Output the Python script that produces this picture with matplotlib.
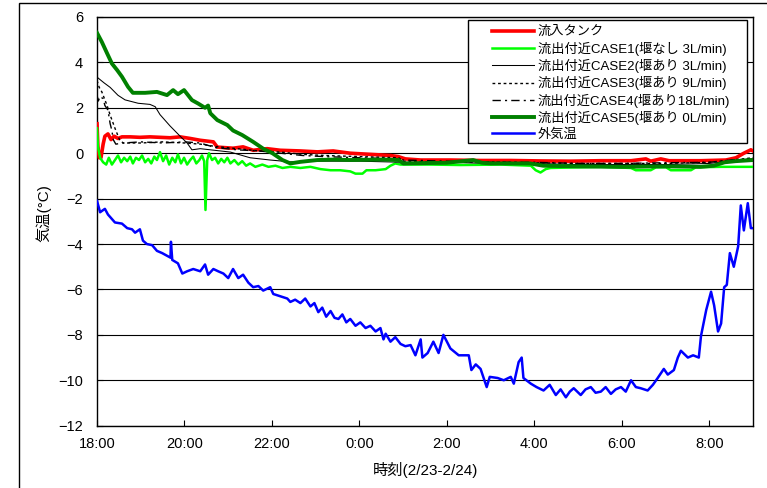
import matplotlib.pyplot as plt
from matplotlib.patches import Rectangle

plt.rcParams['font.family'] = ['Liberation Sans', 'Noto Sans CJK JP', 'DejaVu Sans']

# eje x: horas desde las 18:00 del 2/23
tick_pos = [0, 2, 4, 6, 8, 10, 12, 14]
tick_labels = ['18:00', '20:00', '22:00', '0:00', '2:00', '4:00', '6:00', '8:00']

series_labels = [
    '流入タンク',
    '流出付近CASE1(堰なし 3L/min)',
    '流出付近CASE2(堰あり 3L/min)',
    '流出付近CASE3(堰あり 9L/min)',
    '流出付近CASE4(堰あり18L/min)',
    '流出付近CASE5(堰あり 0L/min)',
    '外気温',
]

# 流入タンク
t_tank = [0.00, 0.02, 0.05, 0.09, 0.14, 0.18, 0.25, 0.32, 0.39, 0.48, 0.57, 0.76, 0.98, 1.21, 1.44,
          1.67, 1.90, 2.13, 2.36, 2.66, 2.75, 3.11, 3.34, 3.57, 3.89, 4.19, 4.65, 5.04, 5.40, 5.79,
          6.25, 6.71, 6.89, 7.05, 7.40, 8.08, 8.77, 9.46, 10.14, 10.83, 11.52, 12.21, 12.55, 12.66,
          12.89, 13.08, 13.81, 14.38, 14.61, 14.79, 14.95, 15.00]
v_tank = [1.3, 0.3, -0.2, -0.2, 0.4, 0.75, 0.85, 0.6, 0.75, 0.65, 0.72, 0.72, 0.7, 0.72, 0.7,
          0.68, 0.72, 0.65, 0.57, 0.5, 0.27, 0.22, 0.28, 0.13, 0.2, 0.13, 0.1, 0.06, 0.1, 0.0,
          -0.05, -0.1, -0.15, -0.25, -0.3, -0.3, -0.32, -0.32, -0.34, -0.35, -0.33, -0.33, -0.25, -0.35,
          -0.25, -0.33, -0.33, -0.3, -0.2, 0.0, 0.15, 0.1]

# CASE1
t_case1 = [0.00, 0.02, 0.07, 0.14, 0.21, 0.27, 0.34, 0.41, 0.48, 0.55, 0.62, 0.69, 0.76, 0.82, 0.89,
           0.96, 1.03, 1.10, 1.17, 1.24, 1.31, 1.37, 1.44, 1.51, 1.58, 1.65, 1.72, 1.79, 1.85, 1.92,
           1.99, 2.06, 2.13, 2.20, 2.27, 2.34, 2.40, 2.45, 2.48, 2.52, 2.56, 2.63, 2.70, 2.77, 2.84,
           2.91, 2.98, 3.05, 3.14, 3.23, 3.32, 3.41, 3.50, 3.62, 3.78, 3.92, 4.08, 4.24, 4.42, 4.65,
           4.88, 5.11, 5.34, 5.56, 5.79, 5.91, 6.07, 6.16, 6.37, 6.60, 6.71, 6.82, 6.94, 7.63, 8.31,
           9.23, 9.92, 10.03, 10.14, 10.26, 10.37, 11.06, 11.52, 12.21, 12.32, 12.66, 12.78, 13.01,
           13.12, 13.58, 13.69, 14.27, 15.00]
v_case1 = [1.1, 0.3, -0.2, -0.4, -0.5, -0.2, -0.5, -0.3, -0.1, -0.4, -0.2, -0.35, -0.15, -0.45, -0.2,
           -0.3, -0.1, -0.4, -0.25, -0.45, -0.15, -0.3, 0.05, -0.35, -0.1, -0.5, -0.2, -0.4, -0.05, -0.45,
           -0.2, -0.5, -0.3, -0.15, -0.45, -0.3, -0.1, -0.35, -2.5, -0.3, 0.0, -0.3, -0.2, -0.45, -0.25,
           -0.4, -0.2, -0.45, -0.3, -0.5, -0.35, -0.55, -0.45, -0.6, -0.5, -0.6, -0.55, -0.65, -0.6, -0.65,
           -0.6, -0.7, -0.75, -0.75, -0.8, -0.9, -0.9, -0.75, -0.75, -0.7, -0.55, -0.45, -0.5, -0.5, -0.52,
           -0.5, -0.55, -0.75, -0.85, -0.7, -0.65, -0.62, -0.6, -0.65, -0.75, -0.75, -0.62, -0.62,
           -0.75, -0.75, -0.62, -0.6, -0.6]

# CASE2
t_case2 = [0.00, 0.16, 0.30, 0.48, 0.64, 0.94, 1.21, 1.33, 1.44, 1.67, 1.90, 2.06, 2.17, 2.36, 3.05,
           3.50, 3.96, 4.42, 5.0, 6.0, 7.0, 8.0, 9.0, 10.0, 11.0, 12.0, 13.0, 14.0, 14.5, 15.0]
v_case2 = [3.35, 3.1, 2.9, 2.55, 2.35, 2.2, 2.15, 2.05, 1.7, 1.2, 0.75, 0.45, 0.15, 0.2, 0.05,
           -0.2, -0.3, -0.38, -0.35, -0.35, -0.4, -0.4, -0.45, -0.45, -0.5, -0.5, -0.5, -0.45, -0.35, -0.3]

# CASE3
t_case3 = [0.00, 0.05, 0.11, 0.23, 0.30, 0.41, 0.52, 0.60, 1.0, 1.5, 2.0, 2.36, 2.7, 3.2, 3.7,
           4.2, 4.7, 5.2, 6.0, 6.9, 7.0, 8.0, 9.0, 10.0, 11.0, 12.0, 13.0, 14.0, 14.5, 15.0]
v_case3 = [3.2, 2.9, 2.7, 2.1, 1.68, 1.1, 0.57, 0.45, 0.45, 0.5, 0.45, 0.4, 0.3, 0.2, 0.1,
           0.05, -0.05, -0.1, -0.15, -0.2, -0.35, -0.4, -0.38, -0.42, -0.45, -0.45, -0.45, -0.4, -0.3, -0.2]

# CASE4
t_case4 = [0.00, 0.03, 0.07, 0.14, 0.18, 0.25, 0.30, 0.34, 0.37, 0.43, 0.6, 1.0, 1.5, 2.0, 2.36,
           2.7, 3.2, 3.7, 4.2, 4.7, 5.2, 6.0, 6.9, 7.0, 8.0, 9.0, 10.0, 11.0, 12.0, 13.0, 14.0, 14.5, 15.0]
v_case4 = [2.55, 2.3, 2.5, 2.4, 2.1, 1.9, 1.3, 1.0, 0.6, 0.4, 0.45, 0.5, 0.45, 0.5, 0.45,
           0.25, 0.15, 0.1, 0.0, -0.1, -0.15, -0.2, -0.25, -0.3, -0.35, -0.4, -0.4, -0.45, -0.45, -0.42,
           -0.4, -0.3, -0.25]

# CASE5
t_case5 = [0.00, 0.11, 0.23, 0.34, 0.46, 0.57, 0.71, 0.82, 1.10, 1.37, 1.60, 1.74, 1.85, 1.99, 2.17,
           2.31, 2.47, 2.54, 2.59, 2.75, 2.98, 3.11, 3.32, 3.57, 3.80, 4.01, 4.24, 4.42, 4.65, 5.04,
           5.40, 5.79, 6.5, 6.9, 7.0, 8.0, 8.6, 8.8, 9.0, 9.9, 10.2, 11.0, 12.0, 13.0, 13.8, 14.1,
           14.35, 14.6, 15.0]
v_case5 = [5.3, 4.9, 4.4, 3.95, 3.66, 3.37, 2.92, 2.66, 2.66, 2.7, 2.56, 2.78, 2.6, 2.78, 2.34,
           2.19, 2.0, 2.1, 1.76, 1.46, 1.24, 1.0, 0.8, 0.5, 0.2, 0.0, -0.3, -0.45, -0.38, -0.3,
           -0.28, -0.3, -0.28, -0.3, -0.45, -0.42, -0.3, -0.42, -0.45, -0.45, -0.55, -0.58, -0.6, -0.58,
           -0.6, -0.55, -0.4, -0.35, -0.3]

# 外気温
t_air = [0.00, 0.07, 0.18, 0.25, 0.41, 0.57, 0.69, 0.80, 0.87, 0.98, 1.05, 1.14, 1.26, 1.37, 1.49,
         1.63, 1.68, 1.69, 1.72, 1.85, 1.95, 2.06, 2.20, 2.36, 2.47, 2.54, 2.66, 2.77, 2.89, 3.00,
         3.11, 3.23, 3.34, 3.46, 3.57, 3.69, 3.80, 3.96, 4.03, 4.19, 4.35, 4.42, 4.53, 4.65, 4.76,
         4.88, 4.97, 5.06, 5.15, 5.24, 5.34, 5.43, 5.52, 5.61, 5.70, 5.79, 5.91, 6.02, 6.14, 6.25,
         6.37, 6.48, 6.55, 6.60, 6.71, 6.82, 6.94, 7.05,
         7.17, 7.28, 7.40, 7.44, 7.56, 7.69, 7.81, 7.92, 8.08, 8.27, 8.50, 8.56, 8.66, 8.77, 8.91,
         8.98, 9.16, 9.30, 9.46, 9.53, 9.64, 9.71, 9.75, 9.92, 10.05, 10.21, 10.35, 10.49, 10.60,
         10.72, 10.81, 10.90, 11.06, 11.17, 11.29, 11.40, 11.52, 11.63, 11.75, 11.86, 11.98, 12.09,
         12.21, 12.32, 12.43, 12.59, 12.71, 12.82, 12.96, 13.05, 13.19, 13.28, 13.35, 13.51, 13.63,
         13.76, 13.81, 13.93, 14.04, 14.11, 14.20, 14.27, 14.34, 14.40, 14.47, 14.56, 14.66, 14.72,
         14.79, 14.88, 14.95, 15.00]
v_air = [-2.1, -2.6, -2.45, -2.7, -3.05, -3.1, -3.3, -3.35, -3.5, -3.35, -3.85, -4.0, -4.05, -4.3, -4.4,
         -4.55, -4.6, -3.9, -4.7, -4.85, -5.3, -5.2, -5.1, -5.2, -4.9, -5.35, -5.1, -5.2, -5.3, -5.5,
         -5.1, -5.5, -5.35, -5.7, -5.9, -5.85, -6.05, -5.9, -6.2, -6.3, -6.4, -6.55, -6.45, -6.6, -6.4,
         -6.75, -6.6, -7.0, -6.8, -7.2, -6.95, -7.25, -7.3, -7.1, -7.45, -7.3, -7.6, -7.45, -7.7, -7.6,
         -7.85, -7.7, -8.2, -7.95, -8.3, -8.1, -8.4, -8.5,
         -8.45, -8.9, -8.2, -9.0, -8.8, -8.3, -8.8, -8.0, -8.6, -8.9, -8.9, -9.55, -9.3, -9.5, -10.3,
         -9.85, -9.9, -10.0, -9.85, -10.15, -9.2, -9.0, -9.9, -10.15, -10.3, -10.45, -10.2, -10.65, -10.4,
         -10.75, -10.5, -10.35, -10.65, -10.4, -10.3, -10.55, -10.5, -10.3, -10.6, -10.4, -10.3, -10.5,
         -10.0, -10.3, -10.35, -10.45, -10.2, -9.9, -9.5, -9.75, -9.55, -9.0, -8.7, -9.0, -8.9,
         -9.0, -8.05, -6.9, -6.1, -6.7, -7.85, -7.5, -5.9, -5.8, -4.4, -5.0, -4.1, -2.3,
         -3.4, -2.2, -3.3, -3.3]


def dibujar():
    fig = plt.figure(figsize=(7.67, 4.88), dpi=100)
    ax = fig.add_axes([0.1265, 0.1277, 0.8553, 0.8375])

    # marco exterior del grafico (esquina superior izquierda)
    fig.patches.append(Rectangle((19 / 767, -0.1), 1.0, 1.1 - 3 / 488, transform=fig.transFigure,
                                 fill=False, edgecolor='black', linewidth=1.0))

    ax.plot(t_tank, v_tank, color='#ff0000', lw=2.6, label=series_labels[0], zorder=3)
    ax.plot(t_case1, v_case1, color='#00ff00', lw=1.8, label=series_labels[1], zorder=3)
    ax.plot(t_case2, v_case2, color='black', lw=0.75, label=series_labels[2], zorder=3)
    ax.plot(t_case3, v_case3, color='black', lw=1.0, ls=(0, (2, 2)), label=series_labels[3], zorder=3)
    ax.plot(t_case4, v_case4, color='black', lw=1.0, ls=(0, (6, 3, 1.5, 3)), label=series_labels[4], zorder=3)
    ax.plot(t_case5, v_case5, color='#008000', lw=2.8, label=series_labels[5], zorder=3)
    ax.plot(t_air, v_air, color='#0000ff', lw=1.8, label=series_labels[6], zorder=3)

    ax.set_xlim(0, 15)
    ax.set_ylim(-12, 6)
    ax.set_xticks(tick_pos)
    ax.set_xticklabels(tick_labels)
    ax.set_yticks(range(-12, 7, 2))
    ax.yaxis.grid(True, color='black', lw=0.8)
    ax.set_axisbelow(True)
    ax.tick_params(direction='in', length=4, labelsize=10.5, colors='black')
    ax.tick_params(axis='x', pad=8)
    ax.tick_params(axis='y', pad=10)
    for s in ax.spines.values():
        s.set_linewidth(1.0)

    ax.set_xlabel('時刻(2/23-2/24)', fontsize=11, labelpad=8)
    ax.set_ylabel('気温(°C)', fontsize=11)
    ax.yaxis.set_label_coords(-0.070, 0.52)

    # caja de la leyenda (mas margen a la izquierda que arriba)
    ax.add_patch(Rectangle((0.5655, 0.6917), 0.4254, 0.301, transform=ax.transAxes,
                           facecolor='white', edgecolor='black', linewidth=1.0, zorder=4))
    leg = ax.legend(loc='upper left', bbox_to_anchor=(0.6021, 0.978), fontsize=9.5,
                    frameon=False, handlelength=3.15, handletextpad=0.3,
                    labelspacing=0.245, borderpad=0.0, borderaxespad=0.0)
    leg.set_zorder(5)

    fig.savefig('out.png', dpi=100)
    plt.close('all')


if __name__ == '__main__':
    dibujar()
